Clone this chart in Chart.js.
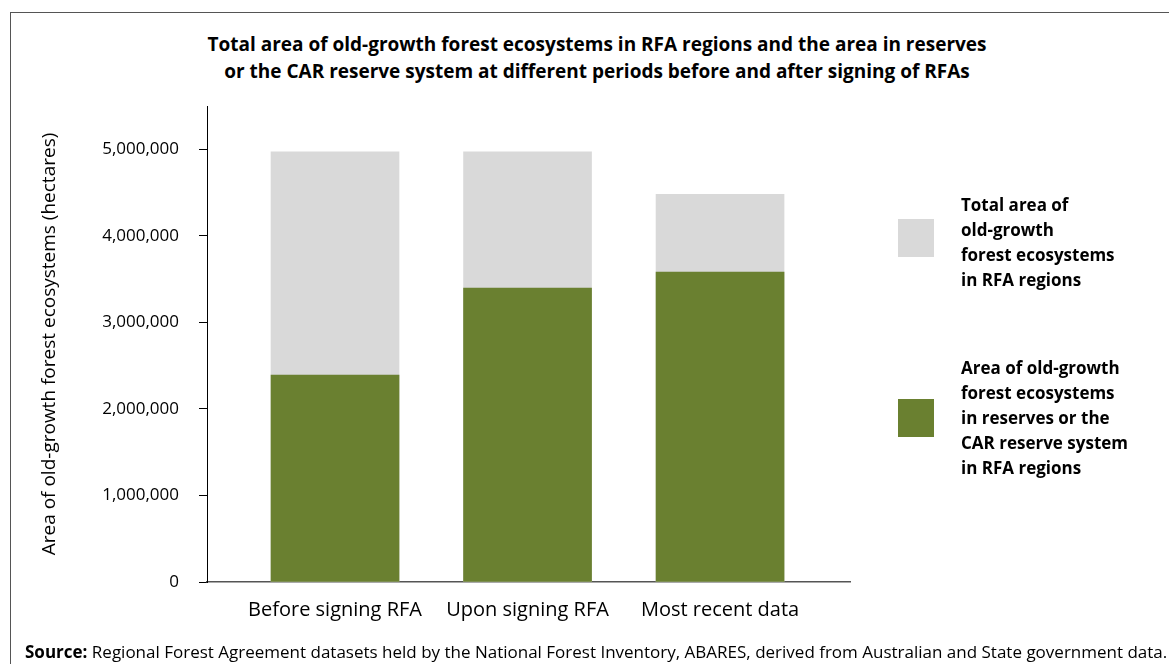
<!DOCTYPE html>
<html>
<head>
<meta charset="utf-8">
<script src="https://cdn.jsdelivr.net/npm/chart.js@4.4.1/dist/chart.umd.min.js"></script>
<style>
  body { margin: 0; background: #fff; }
  #wrap { position: relative; width: 1169px; height: 664px; overflow: hidden; }
  #frame { position: absolute; left: 10px; top: 12px; width: 1200px; height: 700px;
           border-top: 1.5px solid #555; border-left: 1.5px solid #555; }
  #title { position: absolute; left: 0; width: 1194px; top: 31px; text-align: center;
           font: bold 19px "Open Sans", sans-serif; line-height: 27px; color: #000; }
  canvas { position: absolute; left: 0; top: 0; }
  .leg { position: absolute; font: bold 17px "Open Sans", sans-serif; line-height: 25px; color: #000; }
  .sw { position: absolute; width: 36px; height: 38px; }
  #source { position: absolute; left: 25px; top: 640px; font: 17px "Open Sans", sans-serif; color: #000; white-space: nowrap; }
</style>
</head>
<body>
<div id="wrap">
  <div id="frame"></div>
  <div id="title">Total area of old-growth forest ecosystems in RFA regions and the area in reserves<br>or the CAR reserve system at different periods before and after signing of RFAs</div>
  <canvas id="chart" width="1169" height="664"></canvas>
  <div class="sw" style="left:898px; top:219px; background:#d9d9d9"></div>
  <div class="leg" style="left:961px; top:192px">Total area of<br>old-growth<br>forest ecosystems<br>in RFA regions</div>
  <div class="sw" style="left:898px; top:399px; background:#6a8030"></div>
  <div class="leg" style="left:961px; top:355px">Area of old-growth<br>forest ecosystems<br>in reserves or the<br>CAR reserve system<br>in RFA regions</div>
  <div id="source"><b>Source:</b> Regional Forest Agreement datasets held by the National Forest Inventory, ABARES, derived from Australian and State government data.</div>
</div>
<script>
// data
const categories = ['Before signing RFA', 'Upon signing RFA', 'Most recent data'];
const totalArea = [4970000, 4970000, 4480000];
const reserveArea = [2390000, 3395000, 3580000];
const yTicks = [0, 1000000, 2000000, 3000000, 4000000, 5000000];

const grey = '#d9d9d9';
const green = '#6a8030';

const ctx = document.getElementById('chart');
new Chart(ctx, {
  type: 'bar',
  data: {
    datasets: [
      {
        label: 'Total area of old-growth forest ecosystems in RFA regions',
        data: categories.map((c, i) => ({ x: i, y: totalArea[i] })),
        backgroundColor: grey,
        order: 2
      },
      {
        label: 'Area of old-growth forest ecosystems in reserves or the CAR reserve system in RFA regions',
        data: categories.map((c, i) => ({ x: i, y: reserveArea[i] })),
        backgroundColor: green,
        order: 1
      }
    ]
  },
  options: {
    responsive: false,
    animation: false,
    grouped: false,
    barThickness: 128,
    layout: { padding: { left: 34, right: 319, top: 106, bottom: 0 } },
    plugins: {
      legend: { display: false },
      tooltip: { enabled: false }
    },
    scales: {
      x: {
        type: 'linear',
        offset: false,
        min: -0.665,
        max: 2.675,
        afterBuildTicks: (scale) => { scale.ticks = categories.map((c, i) => ({ value: i })); },
        afterFit: (scale) => { scale.height = 82; },
        ticks: {
          padding: 8,
          color: '#000',
          font: { family: 'Open Sans', size: 20 },
          callback: (v) => categories[v]
        },
        grid: { display: false },
        border: { display: true, color: '#555', width: 1.5 }
      },
      y: {
        min: 0,
        max: 5500000,
        afterBuildTicks: (scale) => { scale.ticks = yTicks.map(v => ({ value: v })); },
        afterFit: (scale) => { scale.width = 173; },
        ticks: {
          padding: 20,
          color: '#000',
          font: { family: 'Open Sans', size: 17 },
          callback: (v) => v.toLocaleString('en-US')
        },
        grid: { display: true, drawOnChartArea: false, drawTicks: true, tickLength: 8, color: '#000' },
        border: { display: true, color: '#000', width: 1 },
        title: {
          display: true,
          text: 'Area of old-growth forest ecosystems (hectares)',
          color: '#000',
          font: { family: 'Open Sans', size: 19 },
          padding: { top: 4, bottom: 0 }
        }
      }
    }
  }
});
</script>
</body>
</html>
